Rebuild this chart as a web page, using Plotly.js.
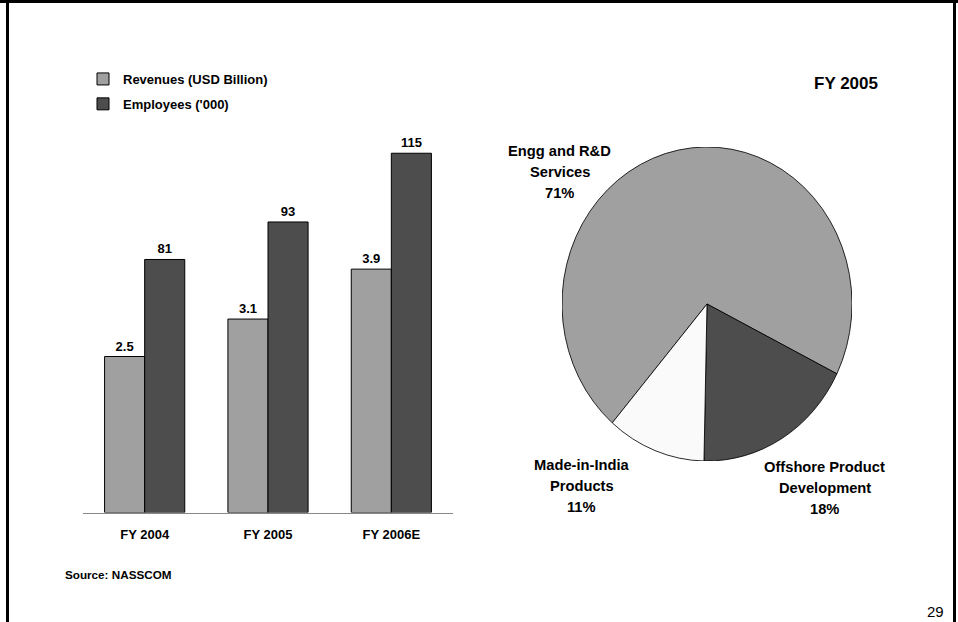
<!DOCTYPE html>
<html>
<head>
<meta charset="utf-8">
<script src="https://cdn.plot.ly/plotly-3.0.1.min.js"></script>
<style>
  html, body { margin: 0; padding: 0; background: #ffffff; }
  #slide { position: relative; width: 958px; height: 622px; }
  #chart { position: absolute; left: 0; top: 0; width: 958px; height: 622px; }
  /* the segment pie is drawn slightly taller than wide */
  #pie { position: absolute; left: 562px; top: 159px; width: 290px; height: 290px;
         transform: scaleY(1.083); transform-origin: 50% 50%; }
</style>
</head>
<body>
<div id="slide">
  <div id="chart"></div>
  <div id="pie"></div>
</div>
<script>
// Fiscal years and the two bar series
const years = ['FY 2004', 'FY 2005', 'FY 2006E'];
const revenues = [2.5, 3.1, 3.9];       // USD Billion
const employees = [81, 93, 115];        // thousands
const seriesNames = ['Revenues (USD Billion)', "Employees ('000)"];

// FY 2005 split by segment (percent)
const segmentLabels = ['Engg and R&D<br>Services', 'Offshore Product<br>Development', 'Made-in-India<br>Products'];
const segmentShares = [71, 18, 11];

const W = 958, H = 622;
const px = x => x / W;        // pixel column -> paper x
const py = y => 1 - y / H;    // pixel row (from top) -> paper y

const FONT = 'Liberation Sans, Arial, Helvetica, sans-serif';
const LIGHT = '#a0a0a0', DARK = '#4d4d4d', PALE = '#fafafa';
const bold = (size, extra) => Object.assign({ family: FONT, size: size, color: '#000000', weight: 'bold' }, extra || {});

const barWidth = 0.325;

const barTraces = [
  {
    type: 'bar', name: seriesNames[0], x: years, y: revenues, yaxis: 'y',
    width: barWidth, offset: -barWidth,
    marker: { color: LIGHT, line: { color: '#000000', width: 1 } },
    text: revenues.map(v => v.toFixed(1)), textposition: 'outside', cliponaxis: false,
    textfont: bold(13), legendgroup: 'rev', hoverinfo: 'skip'
  },
  {
    type: 'bar', name: seriesNames[1], x: years, y: employees, yaxis: 'y2',
    width: barWidth, offset: 0,
    marker: { color: DARK, line: { color: '#000000', width: 1 } },
    text: employees.map(String), textposition: 'outside', cliponaxis: false,
    textfont: bold(13), legendgroup: 'emp', hoverinfo: 'skip'
  }
];

const pieTrace = {
  type: 'pie', labels: segmentLabels, values: segmentShares,
  sort: false, direction: 'clockwise', rotation: -139.2,
  textinfo: 'none', showlegend: false, hoverinfo: 'skip',
  marker: { colors: [LIGHT, DARK, PALE], line: { color: '#000000', width: 0.8 } },
  domain: { x: [0, 1], y: [0, 1] }
};

// Segment labels: each line placed on a 21px pitch, share on the last line
const labelSpots = [
  { x: 559.5, y: 172 },
  { x: 824.7, y: 488 },
  { x: 581.7, y: 485.5 }
];
const LINE_PITCH = 21;
const annotations = [];
segmentLabels.forEach((lab, i) => {
  const lines = lab.split('<br>').concat([segmentShares[i] + '%']);
  lines.forEach((ln, k) => {
    annotations.push({
      xref: 'paper', yref: 'paper', x: px(labelSpots[i].x),
      y: py(labelSpots[i].y + (k - (lines.length - 1) / 2) * LINE_PITCH),
      xanchor: 'center', yanchor: 'middle', showarrow: false,
      text: ln, font: bold(14.7)
    });
  });
});
annotations.push({
  xref: 'paper', yref: 'paper', x: px(62.5), y: py(574), xanchor: 'left', yanchor: 'middle',
  showarrow: false, text: 'Source: NASSCOM', font: bold(11.7)
});
annotations.push({
  xref: 'paper', yref: 'paper', x: px(945.5), y: py(611.5), xanchor: 'right', yanchor: 'middle',
  showarrow: false, text: '29', font: { family: FONT, size: 15, color: '#000000' }
});

// Slide frame: black strip on top, rules on both sides
const frame = [
  { x0: 0, x1: 958, y0: 0, y1: 3 },
  { x0: 6, x1: 9, y0: 0, y1: 622 },
  { x0: 953, x1: 956, y0: 0, y1: 622 }
].map(r => ({
  type: 'rect', xref: 'paper', yref: 'paper', layer: 'above',
  x0: px(r.x0), x1: px(r.x1), y0: py(r.y1), y1: py(r.y0),
  fillcolor: '#000000', line: { width: 0 }
}));

const layout = {
  width: W, height: H,
  margin: { l: 0, r: 0, t: 0, b: 0, pad: 0 },
  paper_bgcolor: '#ffffff', plot_bgcolor: 'rgba(0,0,0,0)',
  font: { family: FONT, color: '#000000' },
  barmode: 'group',
  title: {
    text: 'FY 2005', xref: 'paper', yref: 'paper', x: px(846), xanchor: 'center',
    y: py(83.5), yanchor: 'middle', font: bold(17)
  },
  xaxis: {
    domain: [px(83), px(453)], type: 'category', range: [-0.5, 2.5],
    showline: true, linecolor: '#888888', linewidth: 1.5,
    showgrid: false, zeroline: false, ticks: '', ticklabelstandoff: 9,
    tickfont: bold(13), fixedrange: true
  },
  yaxis: {
    domain: [py(512.5), py(120)], range: [0, 6.29], visible: false, fixedrange: true
  },
  yaxis2: {
    overlaying: 'y', range: [0, 125.64], visible: false, fixedrange: true
  },
  showlegend: true,
  legend: {
    x: px(83), xanchor: 'left', y: py(64), yanchor: 'top',
    traceorder: 'grouped', tracegroupgap: 5,
    font: bold(13), bgcolor: 'rgba(0,0,0,0)', borderwidth: 0
  },
  annotations: annotations,
  shapes: frame
};

const pieLayout = {
  width: 290, height: 290,
  margin: { l: 0, r: 0, t: 0, b: 0, pad: 0 },
  paper_bgcolor: 'rgba(0,0,0,0)', plot_bgcolor: 'rgba(0,0,0,0)',
  showlegend: false
};

const cfg = { staticPlot: true, displayModeBar: false };
Plotly.newPlot('chart', barTraces, layout, cfg);
Plotly.newPlot('pie', [pieTrace], pieLayout, cfg);
</script>
</body>
</html>
